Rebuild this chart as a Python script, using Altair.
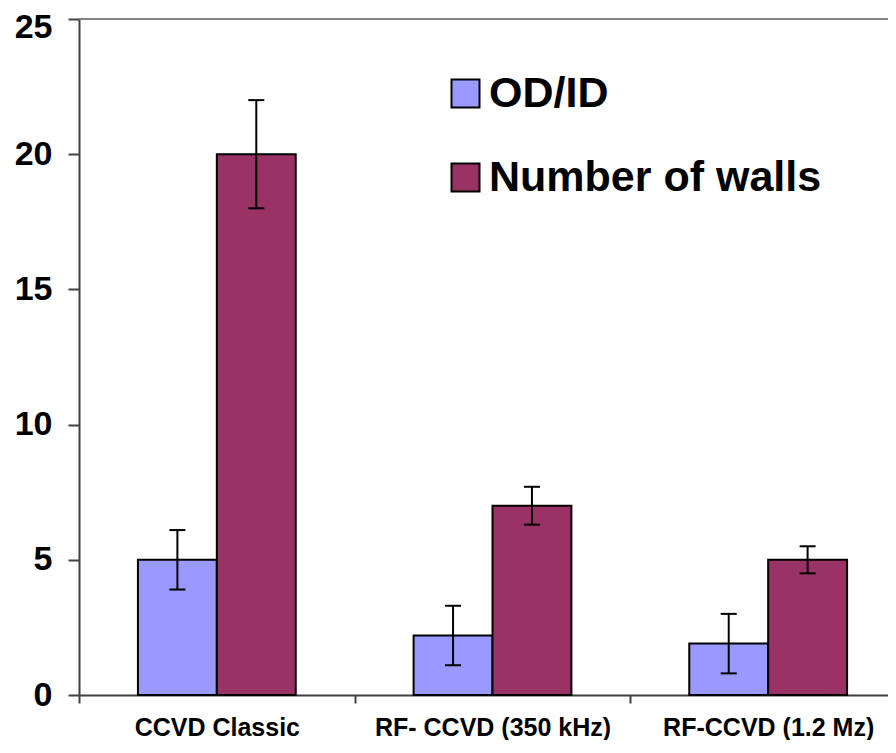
import altair as alt
import pandas as pd

categories = ["CCVD Classic", "RF- CCVD (350 kHz)", "RF-CCVD (1.2 Mz)"]
series = ["OD/ID", "Number of walls"]
od_id = [5.0, 2.2, 1.9]
od_id_err = [1.1, 1.1, 1.1]
walls = [20.0, 7.0, 5.0]
walls_err = [2.0, 0.7, 0.5]
y_ticks = [0, 5, 10, 15, 20, 25]
colors = ["#9999FF", "#993366"]

rows = []
for i, c in enumerate(categories):
    rows.append({"category": c, "series": series[0], "value": od_id[i],
                 "lo": od_id[i] - od_id_err[i], "hi": od_id[i] + od_id_err[i]})
    rows.append({"category": c, "series": series[1], "value": walls[i],
                 "lo": walls[i] - walls_err[i], "hi": walls[i] + walls_err[i]})
df = pd.DataFrame(rows)

FONT = "Liberation Sans"

x_enc = alt.X("category:N", sort=categories,
              scale=alt.Scale(range=[0, 827], paddingInner=0, paddingOuter=0),
              axis=alt.Axis(title=None, labelAngle=0, labelFontSize=25, labelFont=FONT,
                            labelFontWeight="bold", labelColor="black", tickBand="extent",
                            tickSize=8, tickWidth=2, tickColor="#404040",
                            domainColor="#404040", domainWidth=2, labelPadding=32,
                            labelBaseline="alphabetic", labelLimit=0, grid=False))
xo_enc = alt.XOffset("series:N", sort=series,
                     scale=alt.Scale(paddingInner=0, paddingOuter=0.747))
y_scale = alt.Scale(domain=[0, 25], nice=False, zero=True)

base = alt.Chart(df).encode(x=x_enc, xOffset=xo_enc)

bars = base.mark_bar(stroke="black", strokeWidth=2).encode(
    y=alt.Y("value:Q", scale=y_scale,
            axis=alt.Axis(title=None, values=y_ticks, labelFontSize=34, labelFont=FONT,
                          labelFontWeight="bold", labelColor="black", tickSize=11,
                          tickWidth=2, tickColor="#404040", domainColor="#404040",
                          domainWidth=2, labelPadding=16, labelLimit=0, grid=False,
                          labelOffset={"condition": {"test": "datum.value == 25", "value": 8},
                                       "value": 0})),
    color=alt.Color("series:N", sort=series,
                    scale=alt.Scale(domain=series, range=colors),
                    legend=alt.Legend(title=None, orient="none", legendX=365, legendY=53,
                                      symbolType="square", symbolSize=784,
                                      symbolStrokeColor="black", symbolStrokeWidth=2,
                                      symbolOpacity=1, labelLimit=0,
                                      labelFontSize=43, labelFont=FONT, labelFontWeight="bold",
                                      labelColor="black", labelOffset=2, rowPadding=40,
                                      padding=0)),
)

err = base.mark_rule(color="black", strokeWidth=2).encode(
    y=alt.Y("lo:Q", scale=y_scale), y2="hi:Q")
cap_lo = base.mark_tick(color="black", thickness=2, size=16, opacity=1).encode(
    y=alt.Y("lo:Q", scale=y_scale))
cap_hi = base.mark_tick(color="black", thickness=2, size=16, opacity=1).encode(
    y=alt.Y("hi:Q", scale=y_scale))

top_line = alt.Chart(pd.DataFrame({"top": [25]})).mark_rule(
    color="#808080", strokeWidth=2).encode(y=alt.Y("top:Q", scale=y_scale))

chart = alt.layer(top_line, bars, err, cap_lo, cap_hi).properties(
    width=809, height=676,
    autosize=alt.AutoSizeParams(type="none"),
    padding={"left": 71, "top": 11, "right": 0, "bottom": 45},
).configure_view(stroke=None).configure(font=FONT)

chart.save("out.html", embed_options={"renderer": "svg", "actions": False})
